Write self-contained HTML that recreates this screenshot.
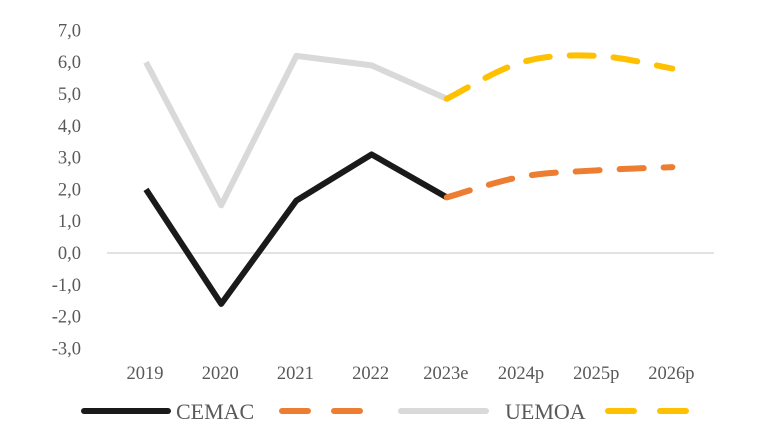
<!DOCTYPE html>
<html><head><meta charset="utf-8"><style>
body{margin:0;background:#fff;width:780px;height:439px;overflow:hidden}
svg text{font-family:"Liberation Serif",serif;fill:#595959}
</style></head><body>
<svg id="chart" width="780" height="439" xmlns="http://www.w3.org/2000/svg"></svg>
<script>
const categories=["2019","2020","2021","2022","2023e","2024p","2025p","2026p"];
const cemacHist=[2.0,-1.6,1.65,3.1,1.75,null,null,null];
const cemacProj=[null,null,null,null,1.75,2.4,2.6,2.7];
const uemoaHist=[6.0,1.5,6.2,5.9,4.85,null,null,null];
const uemoaProj=[null,null,null,null,4.85,6.0,6.2,5.8];
const yTicks=[7,6,5,4,3,2,1,0,-1,-2,-3];
const NS="http://www.w3.org/2000/svg";
const svg=document.getElementById("chart");
const x=i=>146+i*75.2;
const y=v=>253-v*31.8;
function el(t,a){const e=document.createElementNS(NS,t);for(const k in a)e.setAttribute(k,a[k]);svg.appendChild(e);return e;}
const zl=el("line",{x1:107,x2:714,y1:y(0),y2:y(0),stroke:"#d9d9d9","stroke-width":1.5});


yTicks.forEach(v=>{const t=el("text",{x:81,y:y(v)+6,"text-anchor":"end","font-size":18.5});t.textContent=v.toFixed(1).replace(".",",");

});
categories.forEach((c,i)=>{const t=el("text",{x:x(i)-1,y:379,"text-anchor":"middle","font-size":18.5});t.textContent=c;

});
function pts(arr){const p=[];arr.forEach((v,i)=>{if(v!==null)p.push([x(i),y(v)]);});return p;}
function straight(p){return "M"+p.map(q=>q.join(",")).join("L");}
function smooth(p){let d="M"+p[0].join(",");for(let i=0;i<p.length-1;i++){const p0=p[i-1]||p[i],p1=p[i],p2=p[i+1],p3=p[i+2]||p2;
const c1=[p1[0]+(p2[0]-p0[0])/6,p1[1]+(p2[1]-p0[1])/6],c2=[p2[0]-(p3[0]-p1[0])/6,p2[1]-(p3[1]-p1[1])/6];
d+="C"+c1.join(",")+" "+c2.join(",")+" "+p2.join(",");}return d;}
function line(d,color,dash,name){const e=el("path",{d:d,fill:"none",stroke:color,"stroke-width":6,"stroke-linejoin":"round","stroke-linecap":dash?"round":"butt"});if(dash)e.setAttribute("stroke-dasharray",dash);

}
line(straight(pts(uemoaHist)),"#d9d9d9",null,"uemoa-line");
line(straight(pts(cemacHist)),"#1a1a1a",null,"cemac-line");
line(smooth(pts(cemacProj)),"#ed7d31","24,20","cemac-projection");
line(smooth(pts(uemoaProj)),"#ffc000","24,20","uemoa-projection");
function lg(x1,x2,color,dash,name){const e=el("line",{x1:x1,x2:x2,y1:411,y2:411,stroke:color,"stroke-width":6,"stroke-linecap":"round"});if(dash)e.setAttribute("stroke-dasharray",dash);

}
lg(84,168,"#1a1a1a",null,"legend-cemac");
lg(282,360,"#ed7d31","26,26","legend-cemac-projection");
lg(401,486,"#d9d9d9",null,"legend-uemoa");
lg(608,688,"#ffc000","26,26","legend-uemoa-projection");
const t1=el("text",{x:176,y:419,"font-size":22});t1.textContent="CEMAC";


const t2=el("text",{x:505,y:419,"font-size":22});t2.textContent="UEMOA";


</script>
</body></html>
